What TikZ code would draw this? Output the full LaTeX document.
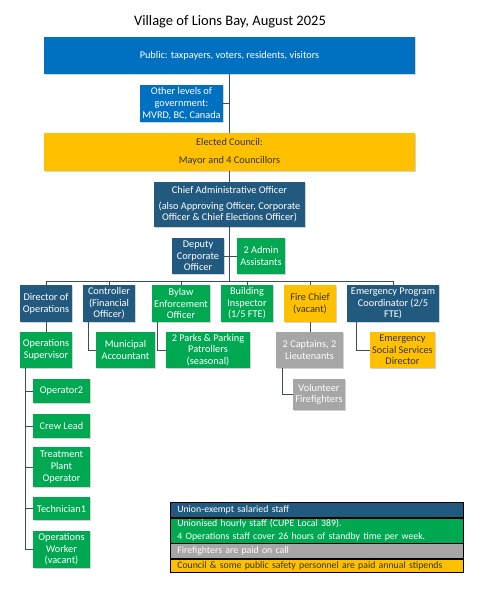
\documentclass[tikz,border=0pt]{standalone}
\usepackage{fontspec}
\setmainfont{Carlito}
\usetikzlibrary{positioning, calc, shadows}

\definecolor{publicblue}{RGB}{0,112,192}
\definecolor{staffblue}{RGB}{33,90,126}
\definecolor{uniongreen}{RGB}{0,168,82}
\definecolor{firegray}{RGB}{166,166,166}
\definecolor{stipendgold}{RGB}{255,192,0}
\definecolor{linkgray}{RGB}{58,78,92}

\begin{document}
\begin{tikzpicture}[
    x=1pt, y=-1pt,
    box/.style={
        rectangle,
        text=white,
        align=center,
        inner sep=0.5pt,
        font=\fontsize{10.3}{11.6}\selectfont,
        drop shadow={opacity=0.35, shadow xshift=1.2pt, shadow yshift=-1.2pt}
    },
    public/.style={box, fill=publicblue},
    staff/.style={box, fill=staffblue},
    union/.style={box, fill=uniongreen},
    fire/.style={box, fill=firegray},
    stipend/.style={box, fill=stipendgold, text=black!80},
    link/.style={
        draw=linkgray,
        line width=0.8pt
    },
    keyrow/.style={
        rectangle,
        draw=black,
        line width=0.6pt,
        anchor=north west,
        minimum width=293pt,
        text width=279pt,
        inner xsep=7pt,
        inner ysep=0pt,
        align=left,
        font=\fontsize{9.8}{12.8}\selectfont
    }
]
    \useasboundingbox (0,0) rectangle (486,598);

    % Title
    \node[font=\fontsize{14.5}{16}\selectfont] (title) at (230,22) {Village of Lions Bay, August 2025};

    % Public and council
    \node[public, minimum width=371pt, minimum height=37pt] (pub) at (229.5,55.5)
        {Public: taxpayers, voters, residents, visitors};
    \node[public, minimum width=83pt, minimum height=37pt] (gov) at (181.5,103.5)
        {Other levels of\\government:\\MVRD, BC, Canada};
    \node[stipend, minimum width=371pt, minimum height=38pt] (council) at (229.5,152)
        {Elected Council:\\[6pt]Mayor and 4 Councillors};
    \draw[link] (pub) -- (council);
    \draw[link] (gov.east) -- (gov.east -| pub.south);

    % CAO
    \node[staff, minimum width=151pt, minimum height=45pt] (cao) at (229.5,204.5)
        {Chief Administrative Officer\\[4pt](also Approving Officer, Corporate\\Officer \& Chief Elections Officer)};
    \draw[link] (council) -- (cao);

    % Deputy and admin
    \node[staff, minimum width=52pt, minimum height=36pt] (deputy) at (198,256)
        {Deputy\\Corporate\\Officer};
    \node[union, minimum width=48pt, minimum height=36pt] (admin) at (261,256)
        {2 Admin\\Assistants};
    \draw[link] (deputy) -- (admin);

    % Department heads
    \coordinate (bus) at (229.5,281);
    \node[staff, minimum width=52pt, minimum height=37pt] (dir) at (46,303.5)
        {Director of\\Operations};
    \node[staff, minimum width=52pt, minimum height=37pt] (ctrl) at (109,303.5)
        {Controller\\(Financial\\Officer)};
    \node[union, minimum width=58pt, minimum height=37pt] (bylaw) at (181,303.5)
        {Bylaw\\Enforcement\\Officer};
    \node[union, minimum width=52pt, minimum height=37pt] (build) at (247,303.5)
        {Building\\Inspector\\(1/5 FTE)};
    \node[stipend, minimum width=52pt, minimum height=37pt] (chief) at (310,303.5)
        {Fire Chief\\(vacant)};
    \node[staff, minimum width=92pt, minimum height=37pt] (epc) at (393,303.5)
        {Emergency Program\\Coordinator (2/5\\FTE)};
    \draw[link] (cao) -- (bus);
    \draw[link] (dir.north |- bus) -- (epc.north |- bus);
    \foreach \n in {dir, ctrl, bylaw, build, chief, epc}
        \draw[link] (\n.north |- bus) -- (\n.north);

    % Second level
    \node[union, minimum width=52pt, minimum height=36pt] (sup) at (46,350)
        {Operations\\Supervisor};
    \node[union, minimum width=59pt, minimum height=36pt] (acct) at (125.5,350)
        {Municipal\\Accountant};
    \node[union, minimum width=84pt, minimum height=36pt] (parks) at (208,350)
        {2 Parks \& Parking\\Patrollers\\(seasonal)};
    \node[fire, minimum width=67pt, minimum height=36pt] (capt) at (309.5,350)
        {2 Captains, 2\\Lieutenants};
    \node[stipend, minimum width=65pt, minimum height=36pt] (ess) at (402.5,350)
        {Emergency\\Social Services\\Director};
    \node[fire, minimum width=52pt, minimum height=31pt] (vol) at (319,394.5)
        {Volunteer\\Firefighters};
    \draw[link] (dir) -- (sup);
    \draw[link] ($(ctrl.south west)+(6,0)$) |- (acct.west);
    \draw[link] ($(bylaw.south west)+(6,0)$) |- (parks.west);
    \draw[link] (chief.south) -- (chief.south |- capt.north);
    \draw[link] ($(epc.south west)+(10,0)$) |- (ess.west);
    \draw[link] ($(capt.south west)+(7,0)$) |- (vol.west);

    % Operations crew
    \node[union, minimum width=57pt, minimum height=24pt] (op2) at (61.5,391) {Operator2};
    \node[union, minimum width=57pt, minimum height=24pt] (crew) at (61.5,426) {Crew Lead};
    \node[union, minimum width=57pt, minimum height=40pt] (plant) at (61.5,467)
        {Treatment\\Plant\\Operator};
    \node[union, minimum width=57pt, minimum height=23pt] (tech) at (61.5,508.5) {Technician1};
    \node[union, minimum width=57pt, minimum height=37pt] (worker) at (61.5,549.5)
        {Operations\\Worker\\(vacant)};
    \coordinate (opsline) at ($(sup.south west)+(6,0)$);
    \draw[link] (opsline) |- (worker.west);
    \foreach \n in {op2, crew, plant, tech}
        \draw[link] (opsline |- \n.west) -- (\n.west);

    % Legend
    \node[keyrow, fill=staffblue, text=white, minimum height=15pt] (key1) at (170,502)
        {Union-exempt salaried staff};
    \node[keyrow, fill=uniongreen, text=white, minimum height=25pt] (key2) at (key1.south west)
        {Unionised hourly staff (CUPE Local 389).\\4 Operations staff cover 26 hours of standby time per week.};
    \node[keyrow, fill=firegray, text=white, minimum height=15pt] (key3) at (key2.south west)
        {Firefighters are paid on call};
    \node[keyrow, fill=stipendgold, text=black!80, minimum height=13pt] (key4) at (key3.south west)
        {Council \& some public safety personnel are paid annual stipends};

\end{tikzpicture}
\end{document}
